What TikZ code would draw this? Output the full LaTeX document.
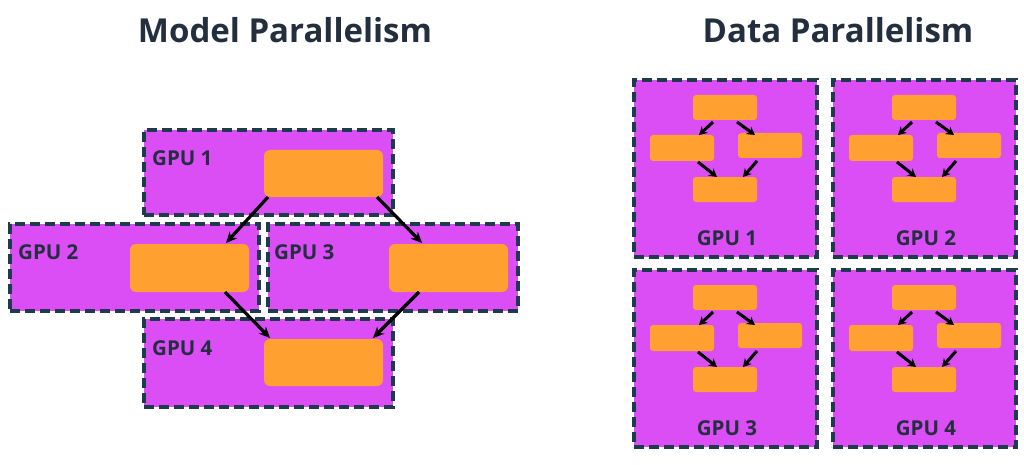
\documentclass[tikz,border=0pt]{standalone}
\usepackage{fontspec}
\setmainfont{Open Sans}
\usetikzlibrary{arrows.meta,calc}
\definecolor{gpufill}{HTML}{DB4DF5}
\definecolor{boxorange}{HTML}{FFA030}
\definecolor{edgeteal}{HTML}{1E3B4E}
\definecolor{inkblue}{HTML}{232F3E}
\tikzset{
  gpubox/.style={draw=edgeteal, fill=gpufill, line width=3.6pt, dash pattern=on 10pt off 5pt, rectangle, inner sep=0pt, outer sep=0pt, anchor=north west},
  bigblock/.style={fill=boxorange, rounded corners=6pt, rectangle, inner sep=0pt, outer sep=0pt, anchor=north west, minimum width=119pt, minimum height=47pt},
  smallblock/.style={fill=boxorange, rounded corners=3pt, rectangle, inner sep=0pt, outer sep=0pt, anchor=north west, minimum width=64pt, minimum height=25pt},
  gpulabel/.style={text=inkblue, font=\bfseries\fontsize{20.5}{24}\selectfont, inner sep=0pt},
  titletext/.style={text=inkblue, font=\bfseries\fontsize{33}{38}\selectfont, inner sep=0pt},
  bigarrow/.style={draw=black, line width=3.2pt, -{Stealth[length=11pt,width=10pt]}},
  smallarrow/.style={draw=black, line width=3pt, -{Stealth[length=8pt,width=9pt]}}
}
\begin{document}
\begin{tikzpicture}[x=1pt,y=-1pt]
\useasboundingbox[fill=white] (0,0) rectangle (1024,465);
% titles
\node[titletext] (tm) at (285,30) {Model Parallelism};
\node[titletext] (td) at (838,30) {Data Parallelism};
% model parallelism
\node[gpubox, minimum width=249pt, minimum height=85pt] (g1) at (144,130) {};
\node[gpubox, minimum width=249pt, minimum height=87pt] (g2) at (10,224) {};
\node[gpubox, minimum width=250pt, minimum height=87pt] (g3) at (268,224) {};
\node[gpubox, minimum width=249pt, minimum height=88pt] (g4) at (144,319) {};
\node[bigblock] (o1) at (264,150) {};
\node[bigblock, minimum height=48pt] (o2) at (130,244) {};
\node[bigblock, minimum height=48pt] (o3) at (389,244) {};
\node[bigblock] (o4) at (264,339) {};
\node[gpulabel, anchor=west] (l1) at (152,158) {GPU 1};
\node[gpulabel, anchor=west] (l2) at (18,252) {GPU 2};
\node[gpulabel, anchor=west] (l3) at (274,252) {GPU 3};
\node[gpulabel, anchor=west] (l4) at (152,348) {GPU 4};
\draw[bigarrow] ($(o1.south west)+(4,0)$) -- ($(o2.north west)+(96,-1)$);
\draw[bigarrow] ($(o1.south east)+(-6,0)$) -- ($(o3.north west)+(33,-1)$);
\draw[bigarrow] ($(o2.south west)+(95,0)$) -- ($(o4.north west)+(6,-1)$);
\draw[bigarrow] ($(o3.south west)+(30,0)$) -- ($(o4.north east)+(-10,-1)$);
% data parallelism
\foreach \i/\bx/\by in {1/634/80, 2/833/80, 3/634/270, 4/833/270}{
  \node[gpubox, minimum width=183pt, minimum height=177pt] (d\i) at (\bx,\by) {};
  \node[smallblock] (d\i t) at (\bx+59,\by+15) {};
  \node[smallblock, minimum height=26pt] (d\i l) at (\bx+16,\by+55) {};
  \node[smallblock] (d\i r) at (\bx+104,\by+53) {};
  \node[smallblock] (d\i b) at (\bx+59,\by+97) {};
  \node[gpulabel] (d\i g) at (\bx+93,\by+158) {GPU \i};
  \draw[smallarrow] ($(d\i t.south west)+(20,2)$) -- ($(d\i l.north west)+(49,0)$);
  \draw[smallarrow] ($(d\i t.south west)+(44,2)$) -- ($(d\i r.north west)+(17,2)$);
  \draw[smallarrow] ($(d\i l.south west)+(48,1)$) -- ($(d\i b.north west)+(24,0)$);
  \draw[smallarrow] ($(d\i r.south west)+(19,3)$) -- ($(d\i b.north west)+(50,0)$);
}
\end{tikzpicture}
\end{document}
